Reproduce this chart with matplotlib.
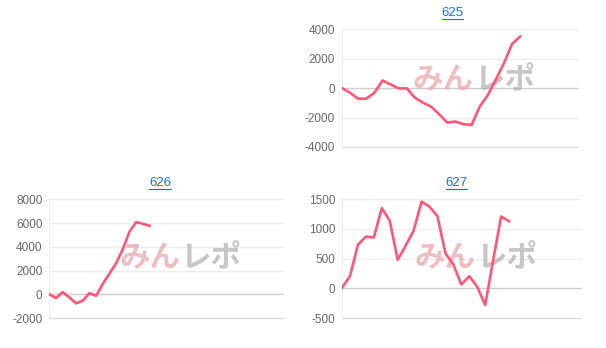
import matplotlib.pyplot as plt
from matplotlib.lines import Line2D

plt.rcParams['axes.unicode_minus'] = False
plt.rcParams['font.family'] = ['Liberation Sans', 'DejaVu Sans']

# data
titles = ['625', '626', '627']
vals_625 = [0, -315, -720, -720, -315, 520, 250, -20, -20, -650, -990, -1260,
            -1780, -2340, -2270, -2450, -2500, -1260, -470, 585, 1710, 3000, 3510]
vals_626 = [0, -330, 180, -270, -760, -550, 100, -140, 880, 1750, 2620, 3800,
            5280, 6080, 5930, 5760]
vals_627 = [10, 205, 735, 870, 855, 1350, 1140, 480, 720, 970, 1460, 1375,
            1215, 590, 400, 65, 205, 25, -280, 470, 1210, 1130]
xmax = [29, 35, 30]
yticks = [[-4000, -2000, 0, 2000, 4000],
          [-2000, 0, 2000, 4000, 6000, 8000],
          [-500, 0, 500, 1000, 1500]]

line_color = '#ff5577'
title_color = '#1a6fcf'

fig = plt.figure(figsize=(6.06, 3.48), dpi=100)

# [left, bottom, width, height] in figure fraction
boxes = [[0.5644, 0.5776, 0.3876, 0.3382],
         [0.0814, 0.0862, 0.3861, 0.3411],
         [0.5644, 0.0862, 0.3938, 0.3411]]
title_pos = [(0.7467, 0.962), (0.264, 0.4733), (0.7538, 0.4733)]
mark_pos = [(0.56, 0.57), (0.56, 0.5), (0.56, 0.5)]

for i, vals in enumerate([vals_625, vals_626, vals_627]):
    ax = fig.add_axes(boxes[i])
    xs = range(len(vals))
    ax.plot(xs, vals, color=line_color, lw=1.9, zorder=3)
    ax.set_xlim(0, xmax[i])
    ax.set_ylim(yticks[i][0], yticks[i][-1])
    ax.set_yticks(yticks[i])
    ax.set_xticks([])
    for s in ['top', 'right', 'bottom']:
        ax.spines[s].set_visible(False)
    ax.spines['left'].set_color('#eeeeee')
    ax.tick_params(axis='y', length=0, labelsize=8.5, labelcolor='#666666', pad=5)
    for t in yticks[i]:
        c = '#cccccc' if t == 0 else ('#dddddd' if t == yticks[i][0] else '#eeeeee')
        ax.axhline(t, color=c, lw=1, zorder=1, clip_on=False)
    ax.patch.set_alpha(0)

    # watermark
    cx, cy = mark_pos[i]
    ax.text(cx, cy, 'みん', transform=ax.transAxes, ha='right', va='center',
            fontsize=22, fontweight='bold', color='#e8a8ae', alpha=0.75,
            family=['Noto Sans CJK JP', 'DejaVu Sans'], zorder=2)
    ax.text(cx, cy, 'レポ', transform=ax.transAxes, ha='left', va='center',
            fontsize=22, fontweight='bold', color='#b4b4b4', alpha=0.75,
            family=['Noto Sans CJK JP', 'DejaVu Sans'], zorder=2)

    # blue underlined title
    tx, ty = title_pos[i]
    fig.text(tx, ty, titles[i], ha='center', va='center', fontsize=9.5, color=title_color)
    fig.add_artist(Line2D([tx - 0.0175, tx + 0.0175], [ty - 0.017, ty - 0.017],
                          transform=fig.transFigure, color=title_color, lw=0.8))

fig.savefig('out.png', dpi=100)
